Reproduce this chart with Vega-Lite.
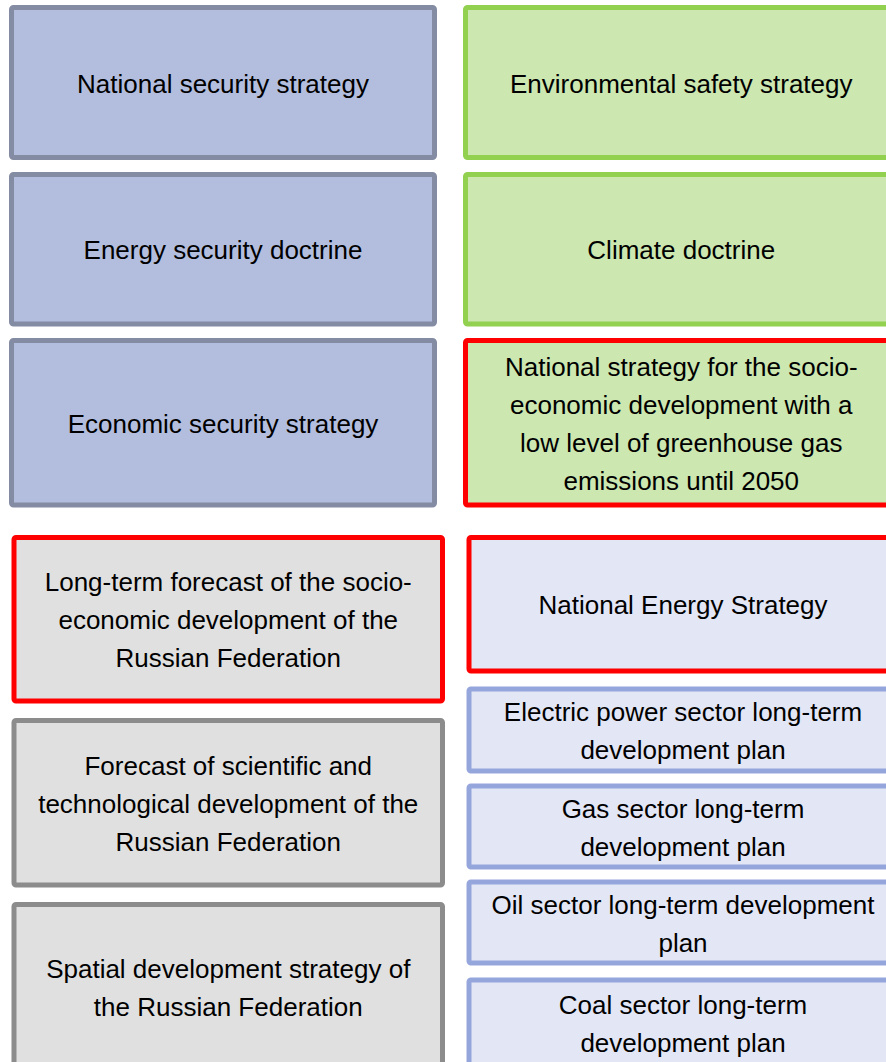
{
  "$schema": "https://vega.github.io/schema/vega-lite/v6.json",
  "width": 886,
  "height": 1062,
  "padding": 0,
  "autosize": {"type": "none"},
  "background": "white",
  "config": {"view": {"stroke": null}},
  "data": {
    "values": [
      {"label": "National security strategy", "kind": "blue", "edge": "blue", "x0": 11.5, "x1": 434.5, "y0": 7.5, "y1": 157.5},
      {"label": "Energy security doctrine", "kind": "blue", "edge": "blue", "x0": 11.5, "x1": 434.5, "y0": 174.5, "y1": 324},
      {"label": "Economic security strategy", "kind": "blue", "edge": "blue", "x0": 11.5, "x1": 434.5, "y0": 340.5, "y1": 505},
      {"label": "Environmental safety strategy", "kind": "green", "edge": "green", "x0": 465.5, "x1": 897, "y0": 7.5, "y1": 157.5},
      {"label": "Climate doctrine", "kind": "green", "edge": "green", "x0": 465.5, "x1": 897, "y0": 174.5, "y1": 324},
      {"label": "National strategy for the socio-\neconomic development with a\nlow level of greenhouse gas\nemissions until 2050", "kind": "green", "edge": "red", "x0": 465.5, "x1": 897, "y0": 340.5, "y1": 505},
      {"label": "Long-term forecast of the socio-\neconomic development of the\nRussian Federation", "kind": "gray", "edge": "red", "x0": 14, "x1": 442.5, "y0": 537.5, "y1": 701},
      {"label": "Forecast of scientific and\ntechnological development of the\nRussian Federation", "kind": "gray", "edge": "gray", "x0": 14, "x1": 442.5, "y0": 720.5, "y1": 885},
      {"label": "Spatial development strategy of\nthe Russian Federation", "kind": "gray", "edge": "gray", "x0": 14, "x1": 442.5, "y0": 904.5, "y1": 1070},
      {"label": "National Energy Strategy", "kind": "light", "edge": "red", "x0": 469, "x1": 897, "y0": 537.5, "y1": 671},
      {"label": "Electric power sector long-term\ndevelopment plan", "kind": "light", "edge": "light", "x0": 469, "x1": 897, "y0": 689, "y1": 771},
      {"label": "Gas sector long-term\ndevelopment plan", "kind": "light", "edge": "light", "x0": 469, "x1": 897, "y0": 786, "y1": 867},
      {"label": "Oil sector long-term development\nplan", "kind": "light", "edge": "light", "x0": 469, "x1": 897, "y0": 882, "y1": 963},
      {"label": "Coal sector long-term\ndevelopment plan", "kind": "light", "edge": "light", "x0": 469, "x1": 897, "y0": 980, "y1": 1066}
    ]
  },
  "transform": [
    {"calculate": "(datum.x0 + datum.x1) / 2", "as": "xc"},
    {"calculate": "length(split(datum.label, '\\n'))", "as": "nlines"},
    {"calculate": "(datum.y0 + datum.y1) / 2 + 2 - (datum.nlines - 1) * 19", "as": "yc"}
  ],
  "layer": [
    {
      "mark": {"type": "rect", "strokeWidth": 5, "cornerRadius": 2},
      "encoding": {
        "x": {"field": "x0", "type": "quantitative", "scale": {"domain": [0, 886], "nice": false, "zero": false}, "axis": null},
        "x2": {"field": "x1"},
        "y": {"field": "y0", "type": "quantitative", "scale": {"domain": [0, 1062], "reverse": true, "nice": false, "zero": false}, "axis": null},
        "y2": {"field": "y1"},
        "fill": {"field": "kind", "type": "nominal", "legend": null,
          "scale": {"domain": ["blue", "green", "gray", "light"], "range": ["#B3BEDE", "#CCE7B0", "#E0E0E0", "#E3E6F5"]}},
        "stroke": {"field": "edge", "type": "nominal", "legend": null,
          "scale": {"domain": ["blue", "green", "gray", "light", "red"], "range": ["#848CA4", "#92D050", "#8C8C8C", "#95A6DC", "#FF0000"]}}
      }
    },
    {
      "mark": {"type": "text", "font": "Liberation Sans", "fontSize": 26, "lineHeight": 38, "lineBreak": "\n", "align": "center", "baseline": "middle", "color": "#000000"},
      "encoding": {
        "x": {"field": "xc", "type": "quantitative"},
        "y": {"field": "yc", "type": "quantitative"},
        "text": {"field": "label"}
      }
    }
  ]
}
